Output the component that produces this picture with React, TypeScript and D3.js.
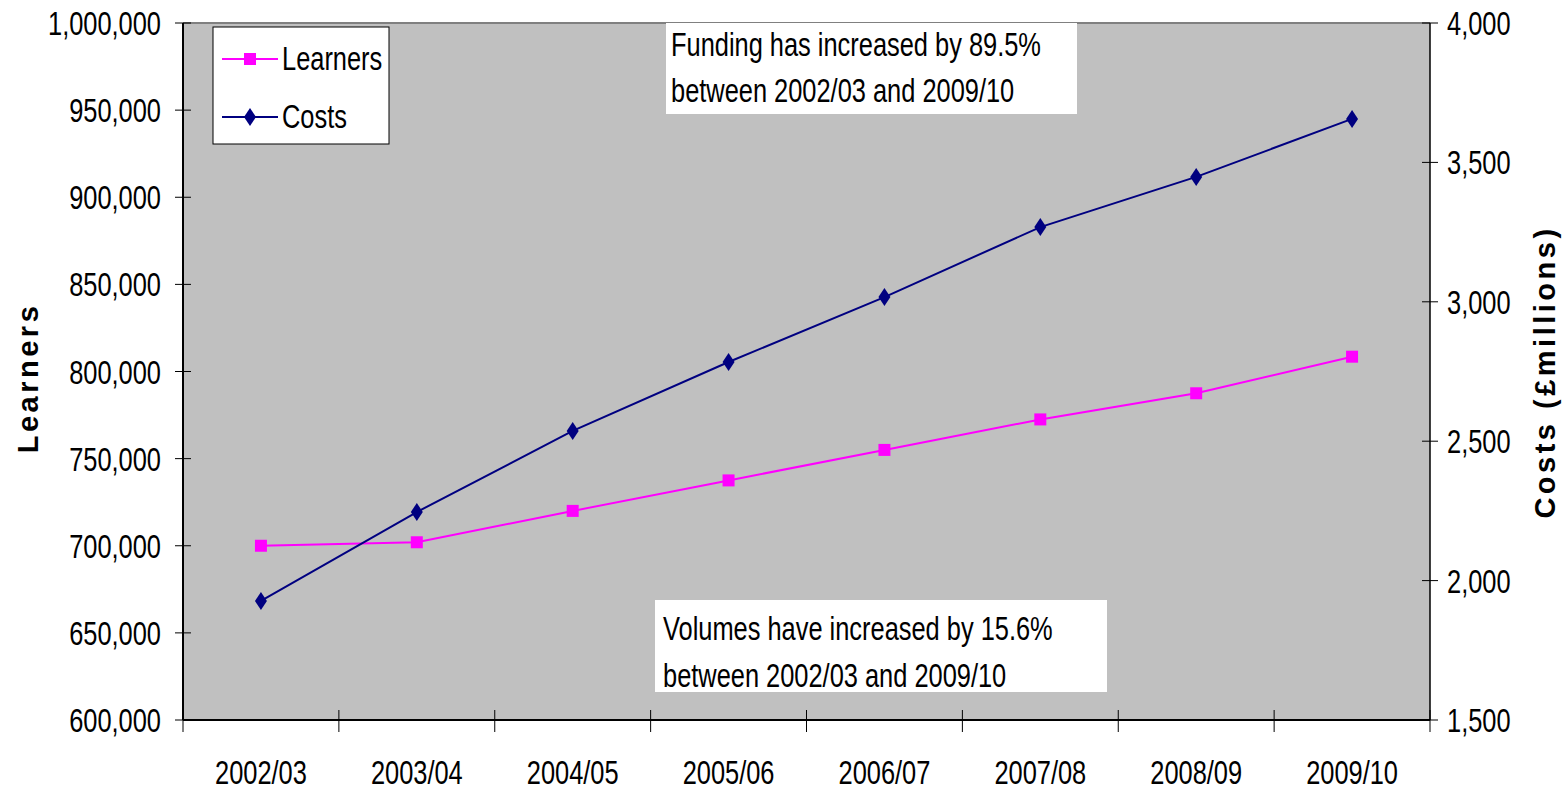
import React from "react";
import * as d3 from "d3";

const years = ["2002/03", "2003/04", "2004/05", "2005/06", "2006/07", "2007/08", "2008/09", "2009/10"];
const learners = [700000, 702000, 720000, 737500, 755000, 772500, 787500, 808500];
const costs = [1927, 2246, 2537, 2784, 3017, 3268, 3448, 3656];
const leftTicks = [600000, 650000, 700000, 750000, 800000, 850000, 900000, 950000, 1000000];
const rightTicks = [1500, 2000, 2500, 3000, 3500, 4000];
const fundingNote = ["Funding has increased by 89.5%", "between 2002/03 and 2009/10"];
const volumeNote = ["Volumes have increased by 15.6%", "between 2002/03 and 2009/10"];

const W = 1567, H = 792;
const L = 183, R = 1430, T = 23, B = 720;
const FONT = "'Liberation Sans', Arial, sans-serif";
const FS = 33, SX = 0.77;

function Txt({ x, y, anchor = "start", children }: any) {
  return (
    <g transform={`translate(${x},${y}) scale(${SX},1)`}>
      <text textAnchor={anchor} fontFamily={FONT} fontSize={FS} fill="#000">{children}</text>
    </g>
  );
}

export default function App() {
  const x = d3.scaleBand<string>().domain(years).range([L, R]);
  const yL = d3.scaleLinear().domain([600000, 1000000]).range([B, T]);
  const yR = d3.scaleLinear().domain([1500, 4000]).range([B, T]);
  const cx = (d: string) => (x(d) as number) + x.bandwidth() / 2;
  const fmt = d3.format(",");
  const lineL = d3.line<number>().x((_, i) => cx(years[i])).y((v) => yL(v));
  const lineR = d3.line<number>().x((_, i) => cx(years[i])).y((v) => yR(v));
  const bounds = [...years.map((d) => x(d) as number), R];

  return (
    <svg width={W} height={H} style={{ position: "absolute", left: 0, top: 0, background: "#fff" }}>
      <rect x={L} y={T} width={R - L} height={B - T} fill="#C0C0C0" />
      <line x1={L} x2={R} y1={T} y2={T} stroke="#808080" strokeWidth={2} />
      {/* axes */}
      <line x1={L} x2={L} y1={T} y2={B} stroke="#000" strokeWidth={2} />
      <line x1={R} x2={R} y1={T} y2={B} stroke="#000" strokeWidth={1.5} />
      <line x1={L} x2={R} y1={B} y2={B} stroke="#000" strokeWidth={2} />
      {leftTicks.map((t) => (
        <g key={"l" + t}>
          <line x1={L - 8} x2={L + 8} y1={yL(t)} y2={yL(t)} stroke="#000" strokeWidth={1} />
          <Txt x={161} y={yL(t) + 12} anchor="end">{fmt(t)}</Txt>
        </g>
      ))}
      {rightTicks.map((t) => (
        <g key={"r" + t}>
          <line x1={R - 8} x2={R + 8} y1={yR(t)} y2={yR(t)} stroke="#000" strokeWidth={1} />
          <Txt x={1447} y={yR(t) + 12} anchor="start">{fmt(t)}</Txt>
        </g>
      ))}
      {bounds.map((b, i) => (
        <line key={"b" + i} x1={b} x2={b} y1={B - 10} y2={B + 12} stroke="#000" strokeWidth={1} />
      ))}
      {years.map((d) => (
        <Txt key={d} x={cx(d)} y={784} anchor="middle">{d}</Txt>
      ))}
      {/* series */}
      <path d={lineL(learners) as string} fill="none" stroke="#FF00FF" strokeWidth={2} />
      <path d={lineR(costs) as string} fill="none" stroke="#000080" strokeWidth={2} />
      {learners.map((v, i) => (
        <rect key={"s" + i} x={cx(years[i]) - 6} y={yL(v) - 6} width={12} height={12} fill="#FF00FF" />
      ))}
      {costs.map((v, i) => {
        const px = cx(years[i]), py = yR(v);
        return <path key={"d" + i} d={`M${px},${py - 9}L${px + 6},${py}L${px},${py + 9}L${px - 6},${py}Z`} fill="#000080" />;
      })}
      {/* legend */}
      <rect x={213} y={27} width={176} height={117} fill="#fff" stroke="#000" strokeWidth={1} />
      <line x1={222} x2={278} y1={59} y2={59} stroke="#FF00FF" strokeWidth={2} />
      <rect x={244} y={53} width={12} height={12} fill="#FF00FF" />
      <Txt x={282} y={70}>Learners</Txt>
      <line x1={222} x2={278} y1={117} y2={117} stroke="#000080" strokeWidth={2} />
      <path d={`M250,108L256,117L250,126L244,117Z`} fill="#000080" />
      <Txt x={282} y={128}>Costs</Txt>
      {/* annotations */}
      <rect x={666} y={23} width={411} height={91} fill="#fff" />
      {fundingNote.map((s, i) => (
        <Txt key={"f" + i} x={671} y={56 + i * 46}>{s}</Txt>
      ))}
      <rect x={655} y={600} width={452} height={92} fill="#fff" />
      {volumeNote.map((s, i) => (
        <Txt key={"v" + i} x={663} y={640 + i * 47}>{s}</Txt>
      ))}
      {/* axis titles */}
      <text transform={`translate(38,378) rotate(-90)`} textAnchor="middle" fontFamily={FONT} fontWeight="bold" fontSize={29} letterSpacing={3.5} fill="#000">Learners</text>
      <text transform={`translate(1555,372) rotate(-90)`} textAnchor="middle" fontFamily={FONT} fontWeight="bold" fontSize={29} letterSpacing={3.5} fill="#000">Costs (£millions)</text>
    </svg>
  );
}
